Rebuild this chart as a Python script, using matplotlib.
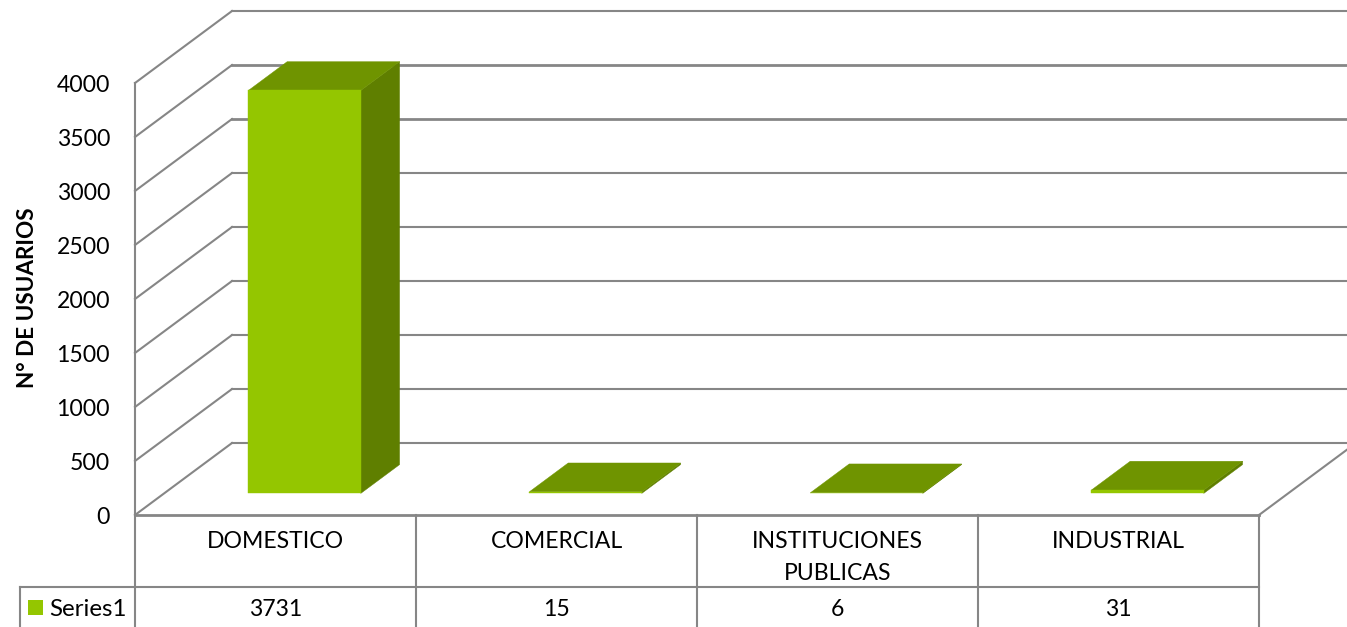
#!/usr/bin/env python

import matplotlib.pyplot as plt
from matplotlib.patches import Polygon, Rectangle
from matplotlib.transforms import IdentityTransform

categories = ["DOMESTICO", "COMERCIAL", "INSTITUCIONES\nPUBLICAS", "INDUSTRIAL"]
users = [3731, 15, 6, 31]
y_ticks = [0, 500, 1000, 1500, 2000, 2500, 3000, 3500, 4000]
series_name = "Series1"
y_label = "N° DE USUARIOS"

WIDTH, HEIGHT = 1347, 627
DEPTH_DX, DEPTH_DY = 97, 72  # pixel shift from the front plane to the back wall
BAR_WIDTH = 0.4
BAR_DEPTH = (0.3, 0.7)
GRID = "#868686"
FRONT, TOP, SIDE = "#94C600", "#6F9400", "#5F7F00"
FONT = "Lato"
FONT_SIZE = 16.6

fig = plt.figure(figsize=(WIDTH / 100, HEIGHT / 100), dpi=100)
ax = fig.add_axes([135 / WIDTH, (HEIGHT - 515) / HEIGHT, 1124 / WIDTH, 432 / HEIGHT])
ax.set_xlim(0, len(categories))
ax.set_ylim(0, y_ticks[-1])
ax.patch.set_visible(False)
for spine in ax.spines.values():
    spine.set_visible(False)
ax.set_xticks([])
ax.set_yticks(y_ticks)
ax.set_yticklabels([str(t) for t in y_ticks], fontfamily=FONT, fontsize=FONT_SIZE, color="black")
ax.tick_params(axis="y", length=0, pad=18)


def project(x, value, depth):
    px, py = ax.transData.transform((x, value))
    return px + depth * DEPTH_DX, py + depth * DEPTH_DY


def line(points, lw=1.5):
    xs, ys = zip(*points)
    ax.plot(xs, ys, color=GRID, lw=lw, transform=IdentityTransform(), clip_on=False,
            solid_capstyle="projecting", zorder=1)


def face(points, color):
    ax.add_patch(Polygon(points, closed=True, facecolor=color, edgecolor=color, lw=0.3,
                         transform=IdentityTransform(), clip_on=False, zorder=3))


# walls and gridlines
n = len(categories)
for tick in y_ticks:
    lw = 2.0 if tick in (3000, 3500) else 1.5
    line([project(0, tick, 0), project(0, tick, 1)])
    line([project(0, tick, 1), project(n, tick, 1)], lw)
line([project(0, 0, 0), project(0, y_ticks[-1], 0)])
line([project(n, 0, 0), project(n, 0, 1)])

# bars
for i, value in enumerate(users):
    x0 = i + 0.5 - BAR_WIDTH / 2
    x1 = i + 0.5 + BAR_WIDTH / 2
    d0, d1 = BAR_DEPTH
    face([project(x1, 0, d0), project(x1, 0, d1), project(x1, value, d1), project(x1, value, d0)], SIDE)
    face([project(x0, value, d0), project(x1, value, d0), project(x1, value, d1), project(x0, value, d1)], TOP)
    face([project(x0, 0, d0), project(x1, 0, d0), project(x1, value, d0), project(x0, value, d0)], FRONT)

# data table below the plot
right_x, floor_y = project(n, 0, 0)
row_y = floor_y - 72
legend_left = 20
line([project(0, 0, 0), (right_x, floor_y)], 2.0)
line([(legend_left, row_y), (right_x, row_y)])
line([(legend_left, row_y), (legend_left, 0)])
for i in range(n + 1):
    px, _ = project(i, 0, 0)
    line([(px, floor_y), (px, 0)])

for i, (name, value) in enumerate(zip(categories, users)):
    px, _ = project(i + 0.5, 0, 0)
    ax.text(px, floor_y - 16, name, transform=IdentityTransform(), ha="center", va="top",
            fontfamily=FONT, fontsize=FONT_SIZE, linespacing=1.62)
    ax.text(px, floor_y - 93, str(value), transform=IdentityTransform(), ha="center", va="center_baseline",
            fontfamily=FONT, fontsize=FONT_SIZE)

# legend key in the table
ax.add_patch(Rectangle((28, HEIGHT - 615), 15, 15, facecolor=FRONT, edgecolor="none",
                       transform=IdentityTransform(), clip_on=False))
ax.text(49, floor_y - 93, series_name, transform=IdentityTransform(), ha="left", va="center_baseline",
        fontfamily=FONT, fontsize=17.4)

fig.text(28 / WIDTH, (HEIGHT - 298) / HEIGHT, y_label, rotation=90, ha="center", va="center",
         fontfamily=FONT, fontsize=16.2, fontweight="bold")

fig.savefig("out.png", dpi=100)
